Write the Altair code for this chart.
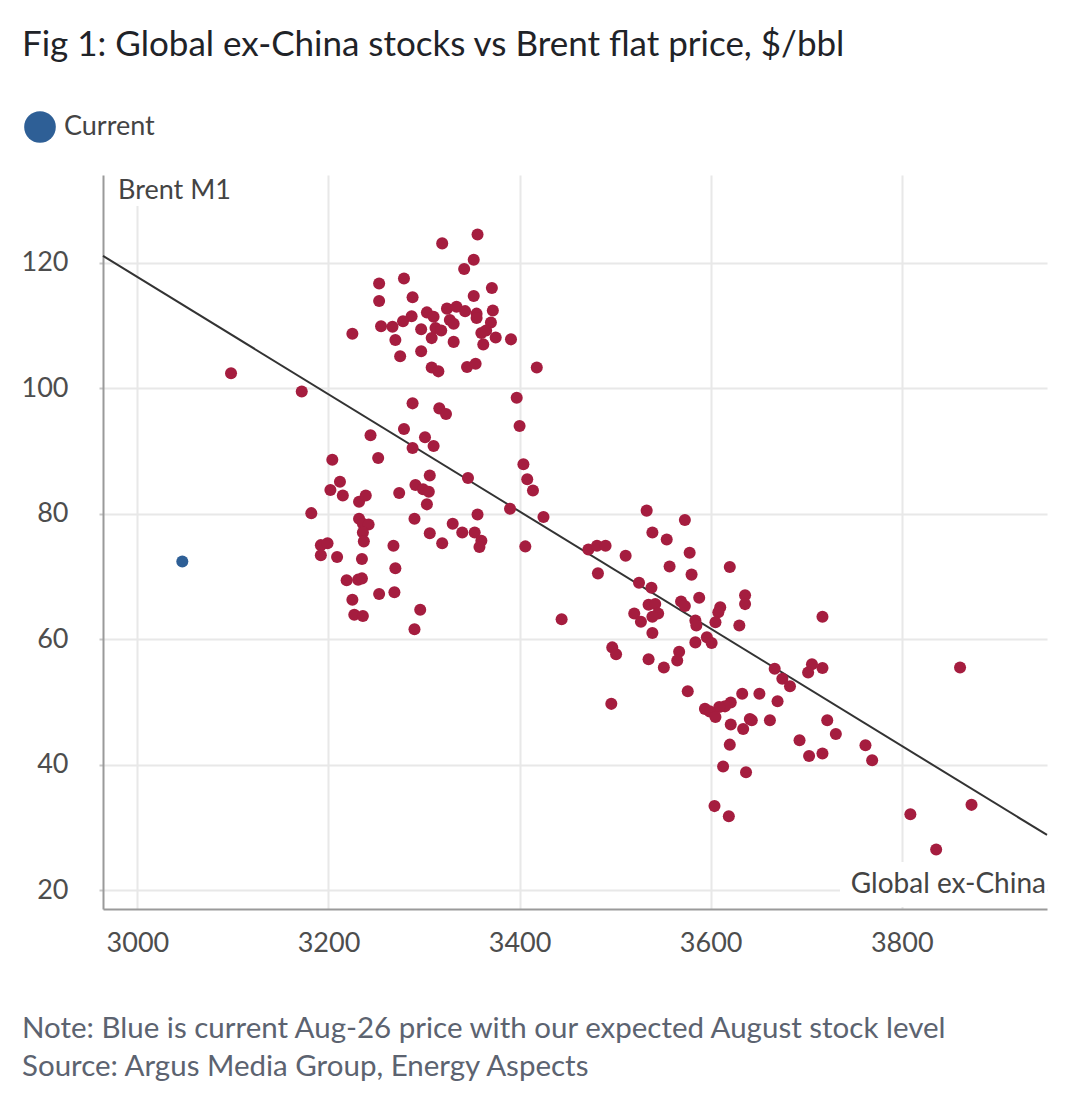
import altair as alt
import pandas as pd

FONT = "Lato"

# Global ex-China stocks (x) vs Brent M1 ($/bbl) (y), historical observations
stock_x = [
    3319, 3356, 3352, 3342, 3253, 3279, 3371, 3253, 3288, 3352, 3372, 3324, 3334, 3343, 3303, 3310,
    3287, 3278, 3355, 3355, 3327, 3331, 3255, 3267, 3370, 3225, 3297, 3312, 3318, 3360, 3365, 3270,
    3308, 3331, 3375, 3391, 3362, 3275, 3297, 3308, 3315, 3345, 3354, 3418, 3397, 3098, 3172,
    3288, 3316, 3323, 3244, 3279, 3301, 3310, 3288, 3204, 3252, 3306, 3212, 3202, 3215, 3232, 3239,
    3274, 3291, 3299, 3305, 3303, 3182, 3290, 3232, 3236, 3242, 3330, 3236, 3306, 3319, 3237, 3192,
    3199, 3192, 3209, 3268, 3235, 3270, 3219, 3231, 3235, 3269, 3253, 3225, 3296, 3227, 3236, 3290,
    3400, 3404, 3408, 3414, 3346, 3390, 3425, 3356, 3340, 3353, 3360, 3358, 3406, 3444,
    3472, 3481, 3490, 3533, 3573, 3539, 3554, 3511, 3578, 3557, 3620, 3580, 3482, 3525, 3538, 3588,
    3569, 3573, 3535, 3542, 3545, 3539, 3520, 3527, 3636, 3636, 3610, 3608, 3605, 3584, 3585, 3630,
    3717, 3539, 3584, 3596, 3601, 3497, 3501, 3567, 3565, 3535, 3551, 3667, 3706, 3702, 3717, 3861,
    3675, 3683, 3576, 3496, 3633, 3651, 3621, 3615, 3609, 3594, 3599, 3605, 3670, 3641, 3643, 3634,
    3621, 3662, 3722, 3731, 3693, 3620, 3703, 3717, 3613, 3637, 3604, 3619, 3762, 3769, 3809, 3873,
    3836,
]
brent_y = [
    123.1, 124.5, 120.5, 119.0, 116.7, 117.5, 116.0, 113.9, 114.5, 114.7, 112.4, 112.7, 113.0, 112.3, 112.1, 111.4,
    111.5, 110.7, 111.9, 111.2, 110.9, 110.3, 109.9, 109.8, 110.5, 108.7, 109.4, 109.6, 109.2, 108.8, 109.2, 107.7,
    108.0, 107.4, 108.1, 107.8, 107.0, 105.1, 105.9, 103.3, 102.7, 103.4, 103.9, 103.3, 98.5, 102.4, 99.5,
    97.6, 96.8, 95.9, 92.5, 93.5, 92.2, 90.8, 90.5, 88.6, 88.9, 86.1, 85.1, 83.8, 82.9, 81.9, 82.9,
    83.3, 84.6, 83.9, 83.5, 81.5, 80.1, 79.2, 79.2, 78.4, 78.3, 78.4, 77.0, 76.9, 75.3, 75.6, 75.0,
    75.3, 73.4, 73.1, 74.9, 72.8, 71.3, 69.4, 69.5, 69.7, 67.5, 67.2, 66.3, 64.7, 63.9, 63.7, 61.6,
    94.0, 87.9, 85.5, 83.7, 85.7, 80.8, 79.5, 79.9, 77.0, 77.0, 75.7, 74.7, 74.8, 63.2,
    74.3, 74.9, 74.9, 80.5, 79.0, 77.0, 75.9, 73.3, 73.8, 71.6, 71.5, 70.3, 70.5, 69.0, 68.2, 66.6,
    66.0, 65.3, 65.5, 65.6, 64.1, 63.6, 64.1, 62.8, 67.0, 65.6, 65.1, 64.3, 62.7, 63.0, 62.2, 62.2,
    63.6, 61.0, 59.5, 60.3, 59.4, 58.7, 57.6, 58.0, 56.6, 56.8, 55.5, 55.3, 56.0, 54.7, 55.4, 55.5,
    53.7, 52.5, 51.7, 49.7, 51.3, 51.3, 49.9, 49.3, 49.2, 48.9, 48.5, 47.6, 50.1, 47.3, 47.1, 45.7,
    46.4, 47.1, 47.1, 44.9, 43.9, 43.2, 41.4, 41.8, 39.7, 38.8, 33.4, 31.8, 43.1, 40.7, 32.1, 33.6,
    26.5,
]

# Current point (Aug-26 price with expected August stock level)
current_x = [3047]
current_y = [72.4]
current_name = ["Current"]

# Fitted line end points
fit_x = [2964, 3952]
fit_y = [121.1, 28.8]

x_ticks = [3000, 3200, 3400, 3600, 3800]
y_ticks = [20, 40, 60, 80, 100, 120]

title_text = "Fig 1: Global ex-China stocks vs Brent flat price, $/bbl"
y_label = "Brent M1"
x_label = "Global ex-China"
note_text = "Note: Blue is current Aug-26 price with our expected August stock level"
source_text = "Source: Argus Media Group, Energy Aspects"

RED = "#A51D3F"
BLUE = "#2E5F96"

hist = pd.DataFrame({"stocks": stock_x, "brent": brent_y})
cur = pd.DataFrame({"stocks": current_x, "brent": current_y, "series": current_name})
fit = pd.DataFrame({"stocks": fit_x, "brent": fit_y})

xscale = alt.Scale(domain=[2964, 3952], nice=False, zero=False)
yscale = alt.Scale(domain=[17, 134], nice=False, zero=False)

xaxis = alt.Axis(
    title=None, values=x_ticks, format="d", grid=True, ticks=False, labelPadding=21,
    labelFontSize=27, labelColor="#4d4d4d", labelFont=FONT,
    domainColor="#9a9a9a", domainWidth=2, gridColor="#e8e8e8", gridWidth=2,
)
yaxis = alt.Axis(
    title=None, values=y_ticks, format="d", grid=True, ticks=True, tickSize=4, tickColor="#c8c8c8",
    tickWidth=2, labelPadding=31, labelFontSize=27, labelColor="#4d4d4d", labelFont=FONT,
    domainColor="#9a9a9a", domainWidth=2, gridColor="#e8e8e8", gridWidth=2,
)

fit_line = alt.Chart(fit).mark_line(color="#333333", strokeWidth=2).encode(
    x=alt.X("stocks:Q", scale=xscale, axis=xaxis),
    y=alt.Y("brent:Q", scale=yscale, axis=yaxis),
)

points = alt.Chart(hist).mark_circle(size=145, color=RED, opacity=1).encode(
    x=alt.X("stocks:Q", scale=xscale, axis=xaxis),
    y=alt.Y("brent:Q", scale=yscale, axis=yaxis),
)

current = alt.Chart(cur).mark_circle(size=145, opacity=1).encode(
    x=alt.X("stocks:Q", scale=xscale, axis=xaxis),
    y=alt.Y("brent:Q", scale=yscale, axis=yaxis),
    color=alt.Color(
        "series:N",
        scale=alt.Scale(domain=current_name, range=[BLUE]),
        legend=alt.Legend(
            title=None, orient="none", legendX=-79, legendY=-64, padding=0,
            symbolType="circle", symbolSize=1000, symbolStrokeWidth=0, symbolOpacity=1,
            labelFontSize=27, labelColor="#444444", labelFont=FONT, labelOffset=8,
        ),
    ),
)

one = pd.DataFrame({"k": [0]})


def white_box(x0, x1, y0, y1):
    return alt.Chart(one).mark_rect(color="white").encode(
        x=alt.value(x0), x2=alt.value(x1), y=alt.value(y0), y2=alt.value(y1)
    )


def label(text, x, y, size, color, align="left"):
    return alt.Chart(pd.DataFrame({"t": [text]})).mark_text(
        align=align, baseline="alphabetic", fontSize=size, font=FONT, color=color
    ).encode(x=alt.value(x), y=alt.value(y), text="t:N")


layers = [
    fit_line,
    points,
    current,
    white_box(2, 132, 0, 31),
    white_box(737, 944, 687, 732),
    label(y_label, 15, 24, 27, "#444444"),
    label(x_label, 943, 718, 28, "#444444", align="right"),
    label(title_text, -81, -119, 35, "#1f2328"),
    label(note_text, -81, 863, 29.5, "#5c6370"),
    label(source_text, -81, 901, 29.5, "#5c6370"),
]

chart = alt.layer(*layers).properties(
    width=944,
    height=734,
    padding={"left": 103, "top": 175, "right": 24, "bottom": 207},
    autosize=alt.AutoSizeParams(type="none"),
    background="white",
).configure_view(stroke=None)

chart.save("out.html", embed_options={"renderer": "svg", "actions": False})
